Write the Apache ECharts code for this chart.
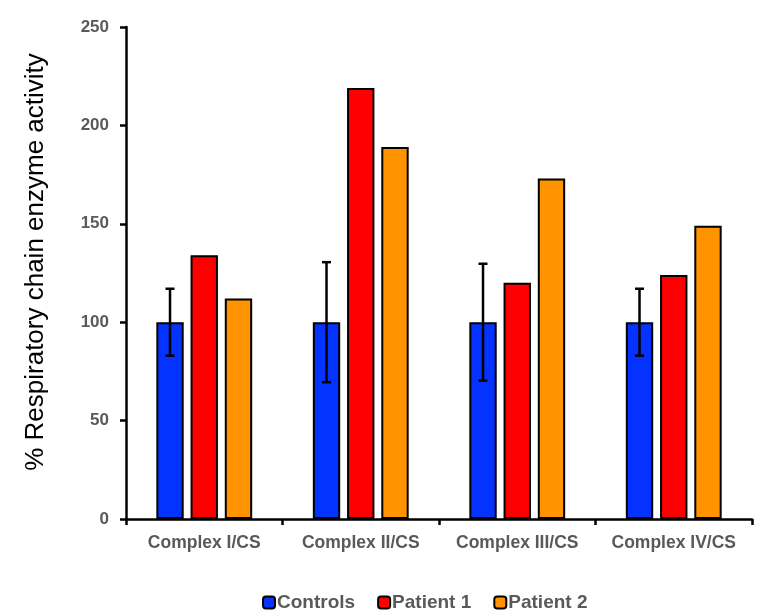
<!DOCTYPE html>
<html><head><meta charset="utf-8">
<script src="https://cdn.jsdelivr.net/npm/echarts@6/dist/echarts.min.js"></script>
<style>html,body{margin:0;padding:0;background:#fff}#c{width:764px;height:612px}</style>
</head><body><div id="c"></div>
<script>
const categories = ['Complex I/CS', 'Complex II/CS', 'Complex III/CS', 'Complex IV/CS'];
const controls = [100, 100, 100, 100];
const controlsErr = [17, 30.5, 29.7, 17];
const patient1 = [134, 219, 120, 124];
const patient2 = [112, 189, 173, 149];
const yTicks = [0, 50, 100, 150, 200, 250];

const BW = 0.175, GAP = 0.25;
const chart = echarts.init(document.getElementById('c'));
const gray = '#595959';
const font = 'Liberation Sans, Arial, sans-serif';
const barStyle = c => ({ color: c, borderColor: '#000', borderWidth: 2 });
chart.setOption({
  animation: false,
  textStyle: { fontFamily: font },
  grid: { left: 126, right: 12, top: 27, bottom: 93 },
  legend: {
    left: 257, top: 588, itemWidth: 12, itemHeight: 12, itemGap: 22,
    textStyle: { color: gray, fontWeight: 'bold', fontSize: 19, fontFamily: font, padding: [0, 0, 0, -3] },
    data: ['Controls', 'Patient 1', 'Patient 2']
  },
  xAxis: {
    type: 'category', data: categories,
    axisLine: { lineStyle: { color: '#000', width: 2.5 } },
    axisTick: { show: true, interval: 0, length: 6, lineStyle: { color: '#000', width: 2.5 } },
    axisLabel: { interval: 0, color: gray, fontWeight: 'bold', fontSize: 17.5, margin: 15, fontFamily: font }
  },
  yAxis: {
    type: 'value', min: yTicks[0], max: yTicks[yTicks.length - 1], interval: 50,
    name: '% Respiratory chain enzyme activity', nameLocation: 'middle', nameGap: 77,
    nameTextStyle: { color: '#000', fontSize: 26, fontFamily: font, padding: [0, 0, 0, 22] },
    axisLine: { show: true, lineStyle: { color: '#000', width: 2.5 } },
    axisTick: { show: true, length: 6, lineStyle: { color: '#000', width: 2.5 } },
    axisLabel: { color: gray, fontWeight: 'bold', fontSize: 17, margin: 17, fontFamily: font },
    splitLine: { show: false }
  },
  series: [
    { name: 'Controls', type: 'bar', data: controls, barWidth: (BW * 100) + '%', barGap: (GAP * 100) + '%', barCategoryGap: '38%', itemStyle: barStyle('#0433FF') },
    { name: 'Patient 1', type: 'bar', data: patient1, barWidth: (BW * 100) + '%', barGap: (GAP * 100) + '%', itemStyle: barStyle('#FF0000') },
    { name: 'Patient 2', type: 'bar', data: patient2, barWidth: (BW * 100) + '%', barGap: (GAP * 100) + '%', itemStyle: barStyle('#FF9300') },
    {
      type: 'custom', z: 10,
      data: controls.map((v, i) => [i, v - controlsErr[i], v + controlsErr[i]]),
      renderItem: (params, api) => {
        const band = api.size([1, 0])[0];
        const off = -band * BW * (1 + GAP);
        const lo = api.coord([api.value(0), api.value(1)]);
        const hi = api.coord([api.value(0), api.value(2)]);
        const x = lo[0] + off, hw = 4.5;
        const st = { stroke: '#000', lineWidth: 2.5 };
        return { type: 'group', children: [
          { type: 'line', shape: { x1: x, y1: lo[1], x2: x, y2: hi[1] }, style: st },
          { type: 'line', shape: { x1: x - hw, y1: lo[1], x2: x + hw, y2: lo[1] }, style: st },
          { type: 'line', shape: { x1: x - hw, y1: hi[1], x2: x + hw, y2: hi[1] }, style: st }
        ] };
      }
    }
  ]
});
</script></body></html>
